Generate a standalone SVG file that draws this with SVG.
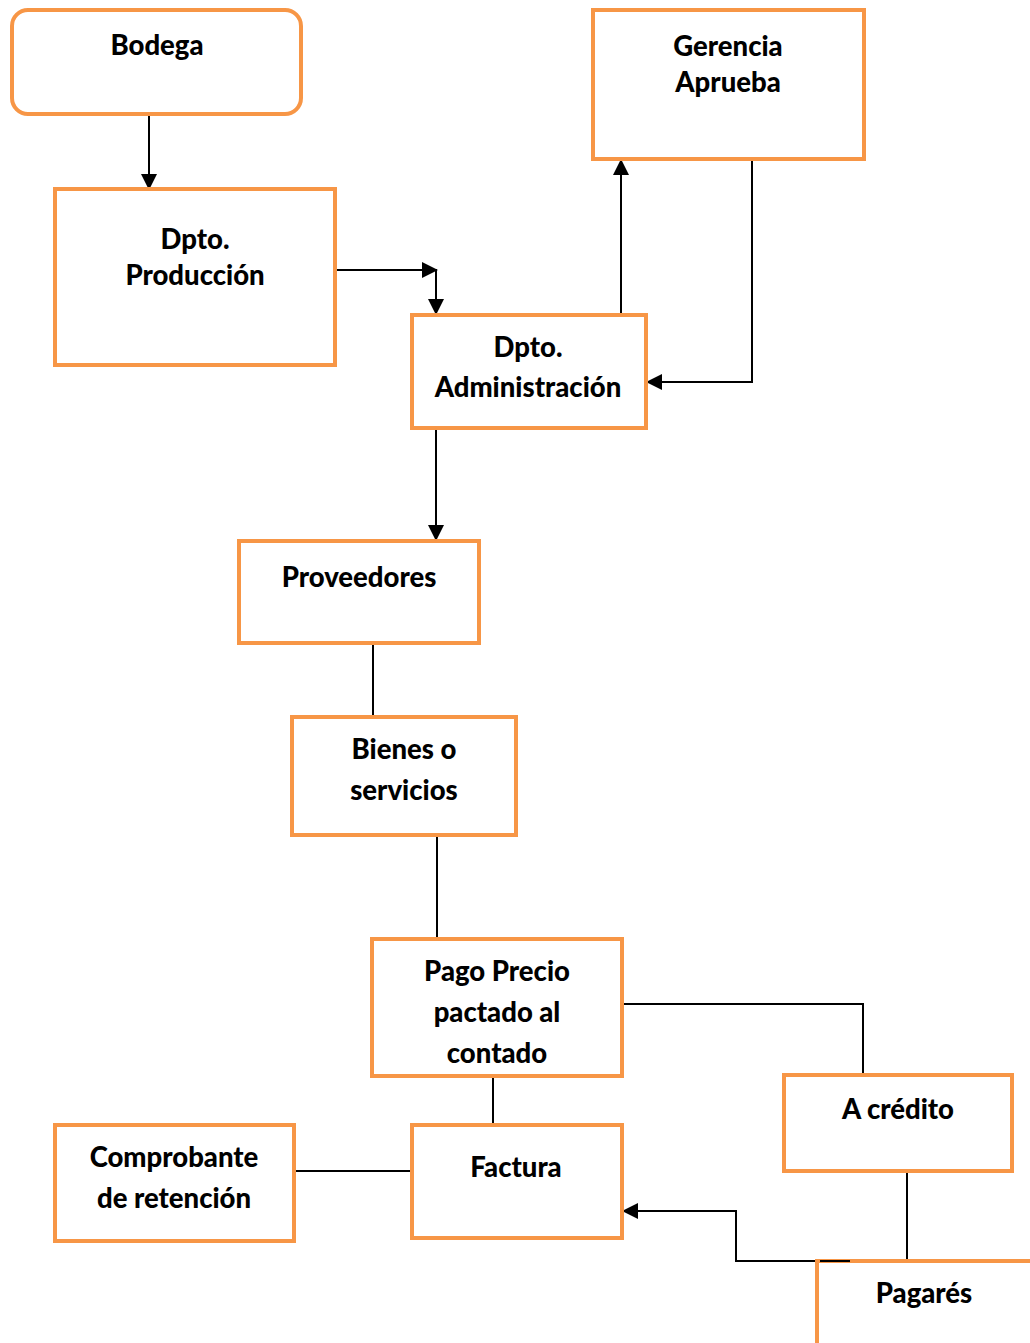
<svg xmlns="http://www.w3.org/2000/svg" width="1030" height="1343" viewBox="0 0 1030 1343">
<defs>
<style>
.box{fill:#fff;stroke:#F79646;stroke-width:4}
.t{font-family:Lato,"Liberation Sans",sans-serif;font-weight:900;font-size:27.5px;fill:#000;text-anchor:middle}
.c{fill:none;stroke:#000;stroke-width:2}
</style>
<marker id="ah2" markerWidth="16" markerHeight="16" refX="15" refY="8" orient="auto" markerUnits="userSpaceOnUse">
<path d="M0,0 L16,8 L0,16 z" fill="#000"/>
</marker>
</defs>
<rect width="1030" height="1343" fill="#fff"/>
<g id="connectors">
<path class="c" d="M149,114 V189" marker-end="url(#ah2)"/>
<path class="c" d="M335,270 H437" marker-end="url(#ah2)"/>
<path class="c" d="M436,270 V314" marker-end="url(#ah2)"/>
<path class="c" d="M621,315 V160" marker-end="url(#ah2)"/>
<path class="c" d="M752,159 V382 H647" marker-end="url(#ah2)"/>
<path class="c" d="M436,428 V540" marker-end="url(#ah2)"/>
<path class="c" d="M373,643 V717"/>
<path class="c" d="M437,835 V939"/>
<path class="c" d="M622,1004 H863 V1075"/>
<path class="c" d="M493,1076 V1125"/>
<path class="c" d="M294,1171 H412"/>
<path class="c" d="M907,1171 V1261"/>
<path class="c" d="M850,1261 H736 V1211 H623" marker-end="url(#ah2)"/>
</g>
<g id="bodega"><rect class="box" x="12" y="10" width="289" height="104" rx="16"/><text class="t" x="157" y="55">Bodega</text></g>
<g id="produccion"><rect class="box" x="55" y="189" width="280" height="176"/><text class="t" x="195" y="249">Dpto.</text><text class="t" x="195" y="285">Producción</text></g>
<g id="gerencia"><rect class="box" x="593" y="10" width="271" height="149"/><text class="t" x="728" y="56">Gerencia</text><text class="t" x="728" y="92">Aprueba</text></g>
<g id="administracion"><rect class="box" x="412" y="315" width="234" height="113"/><text class="t" x="528" y="357">Dpto.</text><text class="t" x="528" y="397">Administración</text></g>
<g id="proveedores"><rect class="box" x="239" y="541" width="240" height="102"/><text class="t" x="359" y="587">Proveedores</text></g>
<g id="bienes"><rect class="box" x="292" y="717" width="224" height="118"/><text class="t" x="404" y="759">Bienes o</text><text class="t" x="404" y="800">servicios</text></g>
<g id="pago"><rect class="box" x="372" y="939" width="250" height="137"/><text class="t" x="497" y="981">Pago Precio</text><text class="t" x="497" y="1022">pactado al</text><text class="t" x="497" y="1063">contado</text></g>
<g id="credito"><rect class="box" x="784" y="1075" width="228" height="96"/><text class="t" x="898" y="1119">A crédito</text></g>
<g id="comprobante"><rect class="box" x="55" y="1125" width="239" height="116"/><text class="t" x="174" y="1167">Comprobante</text><text class="t" x="174" y="1208">de retención</text></g>
<g id="factura"><rect class="box" x="412" y="1125" width="210" height="113"/><text class="t" x="516" y="1177">Factura</text></g>
<g id="pagares"><rect class="box" x="817" y="1261" width="230" height="110"/><text class="t" x="924" y="1303">Pagarés</text></g>
<path class="c" d="M820,1261 H850"/>
</svg>
